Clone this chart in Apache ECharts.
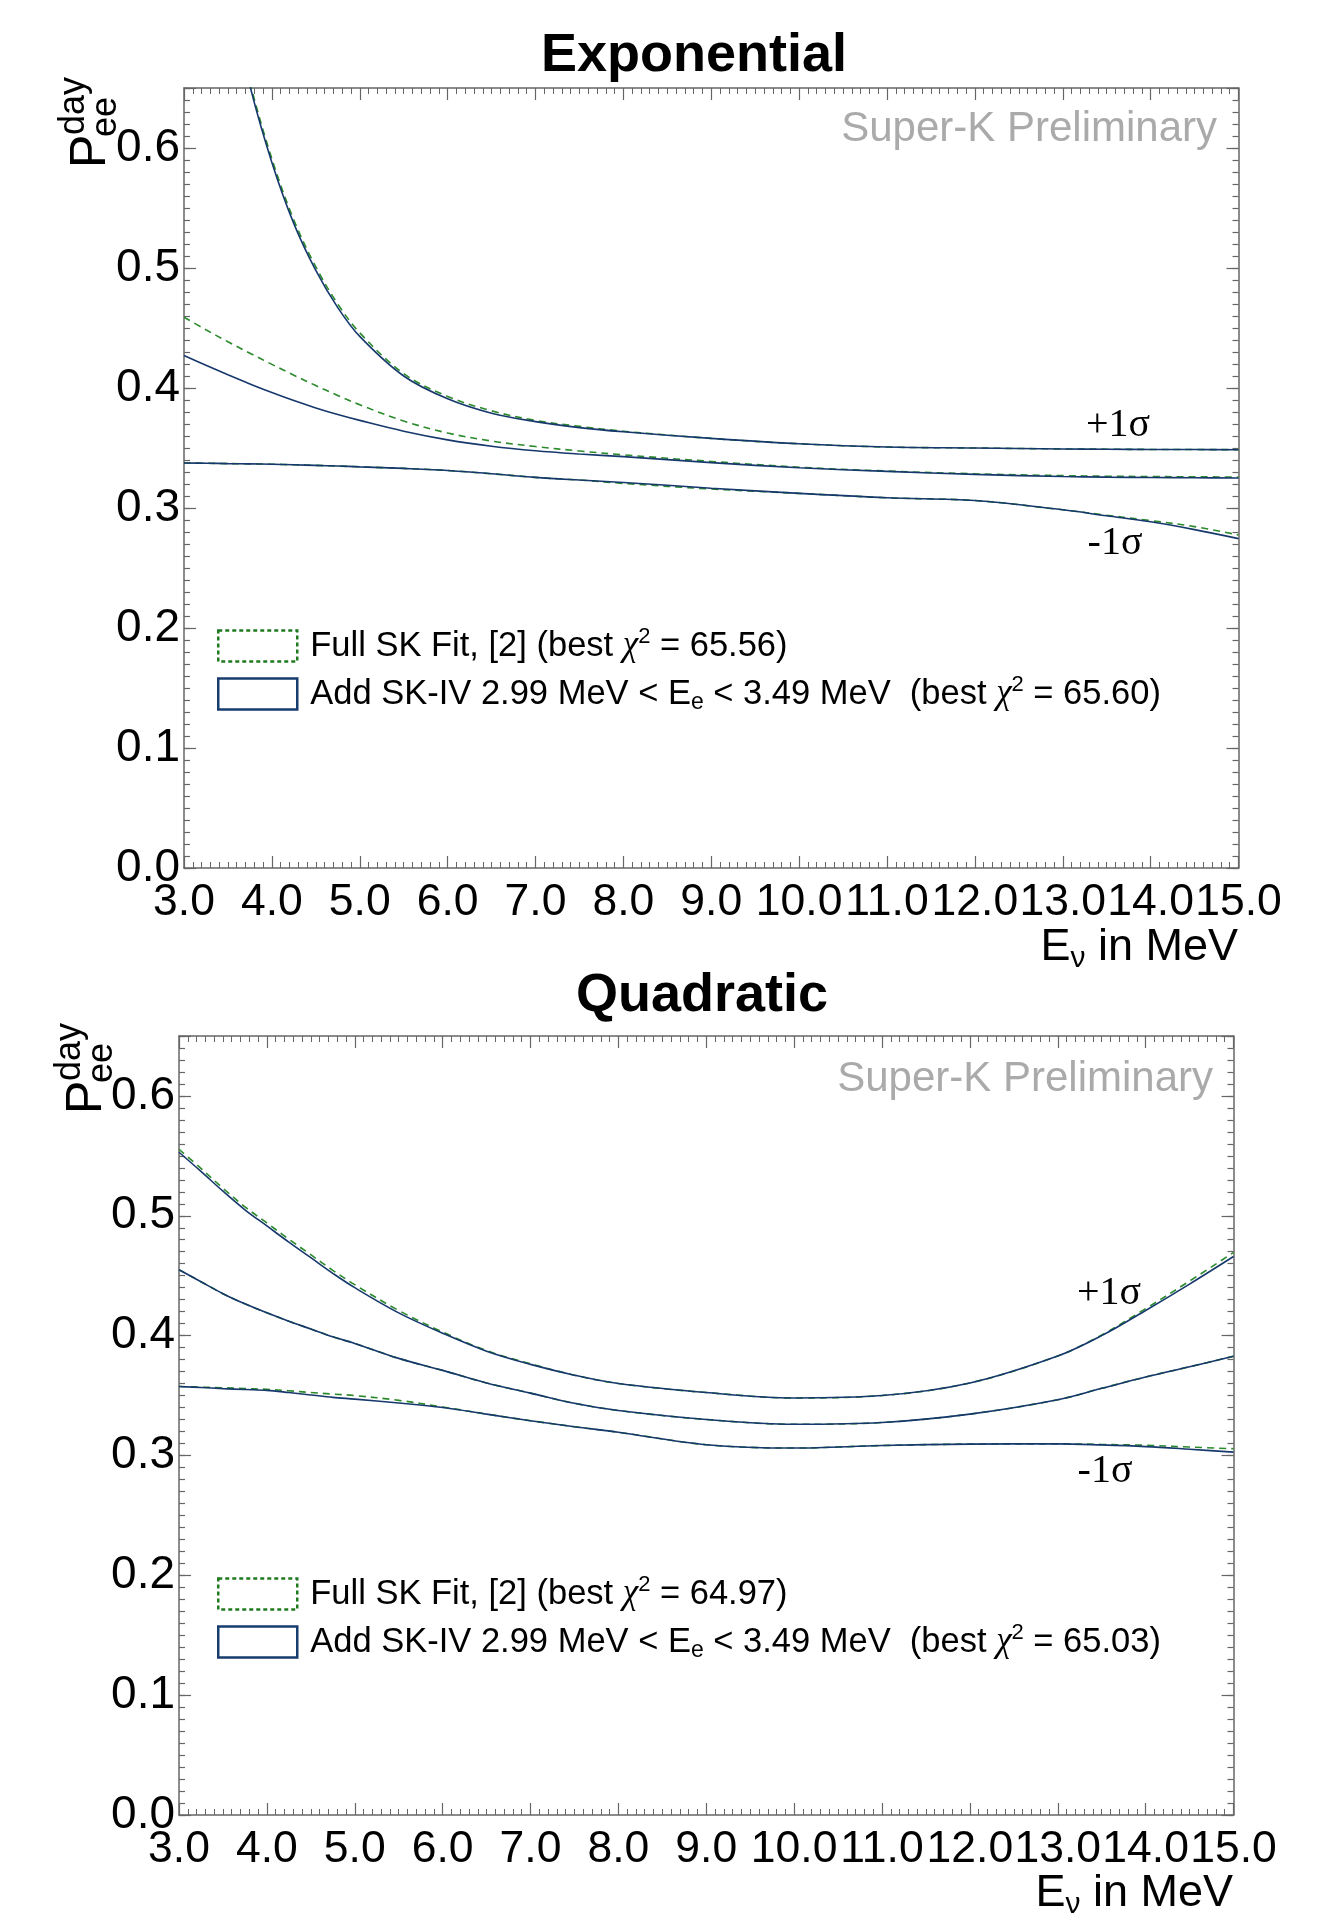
<!DOCTYPE html>
<html>
<head>
<meta charset="utf-8">
<title>Pee day - Exponential / Quadratic</title>
<script src="https://cdn.jsdelivr.net/npm/echarts@6/dist/echarts.min.js"></script>
<style>
  html, body { margin: 0; padding: 0; background: #fff; }
  #main { width: 1330px; height: 1918px; }
</style>
</head>
<body>
<div id="main"></div>
<script>
// neutrino energy grid (MeV), shared by every curve
var energies = [3.0, 3.25, 3.5, 3.75, 4.0, 4.25, 4.5, 4.75, 5.0, 5.5, 6.0, 6.5, 7.0, 7.5, 8.0, 9.0, 10.0, 11.0, 12.0, 13.0, 13.5, 14.0, 14.5, 15.0];

// Exponential fit : +1 sigma / best / -1 sigma
var expUpFull  = [0.98, 0.862, 0.738, 0.655, 0.591, 0.540, 0.501, 0.470, 0.446, 0.412, 0.393, 0.381, 0.373, 0.368, 0.364, 0.358, 0.3535, 0.3508, 0.3500, 0.3492, 0.349, 0.3488, 0.3487, 0.3486];
var expMidFull = [0.459, 0.4485, 0.4385, 0.429, 0.4197, 0.4107, 0.402, 0.3938, 0.386, 0.3725, 0.3625, 0.3558, 0.3512, 0.3475, 0.3443, 0.3388, 0.334, 0.3308, 0.3285, 0.327, 0.3265, 0.3262, 0.326, 0.3258];
var expLowFull = [0.3375, 0.3373, 0.337, 0.3368, 0.3365, 0.336, 0.3355, 0.335, 0.3343, 0.333, 0.3313, 0.3285, 0.3255, 0.3233, 0.3205, 0.3158, 0.3122, 0.3085, 0.3062, 0.2985, 0.294, 0.2895, 0.2845, 0.2775];
var expUpAdd   = [0.98, 0.86, 0.735, 0.652, 0.588, 0.537, 0.498, 0.467, 0.443, 0.410, 0.391, 0.379, 0.372, 0.367, 0.3635, 0.358, 0.3535, 0.3508, 0.3500, 0.3492, 0.349, 0.3488, 0.3487, 0.3486];
var expMidAdd  = [0.427, 0.4189, 0.411, 0.4034, 0.3962, 0.3895, 0.3834, 0.3779, 0.373, 0.364, 0.3568, 0.3515, 0.3477, 0.345, 0.3428, 0.3378, 0.3335, 0.3305, 0.328, 0.3262, 0.3257, 0.3254, 0.3252, 0.325];
var expLowAdd  = [0.3375, 0.3373, 0.337, 0.3368, 0.3365, 0.336, 0.3355, 0.335, 0.3343, 0.333, 0.3313, 0.3285, 0.3255, 0.3233, 0.3213, 0.3165, 0.3122, 0.3085, 0.3062, 0.2985, 0.2935, 0.2885, 0.282, 0.2745];

// Quadratic fit : +1 sigma / best / -1 sigma
var quadUpFull  = [0.5555, 0.5395, 0.523, 0.5075, 0.494, 0.4805, 0.4675, 0.4545, 0.4425, 0.421, 0.403, 0.3875, 0.3765, 0.367, 0.360, 0.3525, 0.348, 0.350, 0.3605, 0.383, 0.4005, 0.4225, 0.4455, 0.4694];
var quadMidFull = [0.455, 0.445, 0.435, 0.4265, 0.419, 0.412, 0.4055, 0.399, 0.3935, 0.381, 0.371, 0.3605, 0.352, 0.3435, 0.3375, 0.330, 0.326, 0.3275, 0.3345, 0.3465, 0.356, 0.3655, 0.374, 0.3828];
var quadLowFull = [0.3575, 0.357, 0.3565, 0.3558, 0.3552, 0.354, 0.3525, 0.3512, 0.350, 0.346, 0.3405, 0.3345, 0.329, 0.324, 0.3194, 0.309, 0.3062, 0.3083, 0.3095, 0.3097, 0.3092, 0.3085, 0.307, 0.3056];
var quadUpAdd   = [0.553, 0.537, 0.5205, 0.505, 0.4915, 0.478, 0.465, 0.452, 0.440, 0.419, 0.402, 0.387, 0.376, 0.367, 0.360, 0.3525, 0.348, 0.350, 0.3605, 0.383, 0.400, 0.421, 0.443, 0.466];
var quadMidAdd  = [0.455, 0.445, 0.435, 0.4265, 0.419, 0.412, 0.4055, 0.399, 0.3935, 0.381, 0.371, 0.3605, 0.352, 0.3435, 0.3375, 0.330, 0.326, 0.3275, 0.3345, 0.3465, 0.356, 0.3655, 0.374, 0.3828];
var quadLowAdd  = [0.3575, 0.3567, 0.3558, 0.355, 0.3543, 0.3525, 0.3505, 0.3485, 0.347, 0.3438, 0.340, 0.3345, 0.329, 0.324, 0.3194, 0.309, 0.3062, 0.3083, 0.3095, 0.3097, 0.3088, 0.3074, 0.3052, 0.3028];

var panelTitles = ['Exponential', 'Quadratic'];
var expNames  = ['Full SK Fit, [2] (best χ2 = 65.56)', 'Add SK-IV 2.99 MeV < Ee < 3.49 MeV  (best χ2 = 65.60)'];
var quadNames = ['Full SK Fit, [2] (best χ2 = 64.97)', 'Add SK-IV 2.99 MeV < Ee < 3.49 MeV  (best χ2 = 65.03)'];

var GREEN = '#2b8a2b';
var BLUE = '#16386c';
var FRAME = '#666';
var SANS = '"Liberation Sans", Arial, Helvetica, sans-serif';
var SERIF = '"Liberation Serif", "Times New Roman", serif';

var chart = echarts.init(document.getElementById('main'));

function pairs(vals) {
	return energies.map(function (e, i) { return [e, vals[i]]; });
}

// "χ2" -> chi with superscript, "Ee" -> E with subscript e
function richName(n) {
	return n.replace('χ2', '{chi|χ}{sup|2}').replace('Ee', 'E{sub|e}');
}

function yLabel(v) {
	return Math.abs(v * 10 - Math.round(v * 10)) < 1e-6 ? v.toFixed(1) : '';
}

/**
 * x axes for one grid: bottom with labels, top mirrored
 */
function makeXAxes(gi) {
	var base = {
		gridIndex: gi, type: 'value', min: 3, max: 15, interval: 1,
		axisLine: { show: true, onZero: false, lineStyle: { color: FRAME, width: 1.5 } },
		axisTick: { show: true, inside: true, length: 12, lineStyle: { color: FRAME, width: 1.2 } },
		minorTick: { show: true, splitNumber: 10, length: 6, lineStyle: { color: FRAME, width: 1 } },
		splitLine: { show: false },
		minorSplitLine: { show: false }
	};
	var bottom = echarts.util.merge({
		position: 'bottom',
		axisLabel: { show: true, fontSize: 44.5, fontFamily: SANS, color: '#000', margin: 12,
			showMinLabel: true, showMaxLabel: true, hideOverlap: false,
			formatter: function (v) { return v.toFixed(1); } }
	}, base, true);
	var top = echarts.util.merge({ position: 'top', axisLabel: { show: false } }, base, true);
	return [bottom, top];
}

/**
 * y axes for one grid: left major (labels), left minor, right major, right minor
 */
function makeYAxes(gi) {
	function ax(pos, interval, len, showLine, showLabel) {
		return {
			gridIndex: gi, type: 'value', position: pos, min: 0, max: 0.65, interval: interval,
			axisLine: { show: showLine, onZero: false, lineStyle: { color: FRAME, width: 1.5 } },
			axisTick: { show: true, inside: true, length: len, lineStyle: { color: FRAME, width: 1.2 } },
			axisLabel: showLabel
				? { show: true, fontSize: 46, fontFamily: SANS, color: '#000', margin: 4,
					showMinLabel: true, formatter: yLabel }
				: { show: false },
			splitLine: { show: false }
		};
	}
	return [
		ax('left', 0.1, 12, true, true),
		ax('left', 0.01, 6, false, false),
		ax('right', 0.1, 12, true, false),
		ax('right', 0.01, 6, false, false)
	];
}

function makeSeries(gi, names, full, add) {
	var out = [];
	full.forEach(function (vals) {
		out.push({
			name: names[0], type: 'line', xAxisIndex: gi * 2, yAxisIndex: gi * 4,
			data: pairs(vals), showSymbol: false, smooth: 0.35, clip: true, silent: true,
			lineStyle: { color: GREEN, width: 1.6, type: [7, 5] },
			itemStyle: { color: GREEN }
		});
	});
	add.forEach(function (vals) {
		out.push({
			name: names[1], type: 'line', xAxisIndex: gi * 2, yAxisIndex: gi * 4,
			data: pairs(vals), showSymbol: false, smooth: 0.35, clip: true, silent: true,
			lineStyle: { color: BLUE, width: 1.6 },
			itemStyle: { color: BLUE }
		});
	});
	return out;
}

function makeLegend(names, top) {
	return {
		orient: 'vertical', left: 217, top: top, padding: 0,
		itemWidth: 79, itemHeight: 31, itemGap: 8, selectedMode: false,
		data: [
			{ name: names[0], icon: 'rect',
			  itemStyle: { color: 'rgba(0,0,0,0)', borderColor: '#1f7a1f', borderWidth: 2.5, borderType: [4, 3] } },
			{ name: names[1], icon: 'rect',
			  itemStyle: { color: 'rgba(0,0,0,0)', borderColor: '#173c70', borderWidth: 2.5, borderType: 'solid' } }
		],
		formatter: richName,
		textStyle: {
			fontSize: 34.5, fontFamily: SANS, color: '#000', lineHeight: 40, padding: [0, 0, 0, 8],
			rich: {
				chi: { fontSize: 35, fontFamily: SERIF, fontStyle: 'italic', color: '#000', lineHeight: 40 },
				sup: { fontSize: 22, fontFamily: SANS, color: '#000', lineHeight: 20, verticalAlign: 'top' },
				sub: { fontSize: 23, fontFamily: SANS, color: '#000', lineHeight: 22, verticalAlign: 'bottom' }
			}
		}
	};
}

function txt(x, y, text, font, align, valign, fill, rot) {
	return {
		type: 'text', x: x, y: y, rotation: rot || 0, silent: true,
		style: { text: text, font: font, fill: fill || '#000',
			align: align, textAlign: align, verticalAlign: valign, textVerticalAlign: valign }
	};
}

function richText(x, y, text, rich, align, valign) {
	return {
		type: 'text', x: x, y: y, silent: true,
		style: { text: text, rich: rich, fill: '#000',
			align: align, textAlign: align, verticalAlign: valign, textVerticalAlign: valign }
	};
}

var nameRich = {
	a: { fontSize: 45, fontFamily: SANS, fill: '#000', color: '#000', lineHeight: 52 },
	s: { fontSize: 30, fontFamily: SANS, fill: '#000', color: '#000', lineHeight: 30, verticalAlign: 'bottom' }
};

var graphics = [];
// per panel decorations: [yOffset, xOffset, right edge of plot, sigma labels]
[[0, 0, 1238, [1118, 425, 1115, 543]], [946, -4, 1233, [1109, 1293, 1105, 1471]]].forEach(function (p) {
	var dy = p[0], dx = p[1];
	graphics.push(txt(1217 + dx, 129 + dy + (dy ? 4 : 0), 'Super-K Preliminary', '42px ' + SANS, 'right', 'middle', '#aaaaaa'));
	graphics.push(richText(p[2], 946 + dy + 2, '{a|E}{s|ν}{a| in MeV}', nameRich, 'right', 'middle'));
	// y axis name  P_ee^day, rotated
	graphics.push(txt(116 + dx, 168 + dy, 'P', '50px ' + SANS, 'left', 'bottom', '#000', Math.PI / 2));
	graphics.push(txt(124 + dx, 137 + dy, 'ee', '36px ' + SANS, 'left', 'bottom', '#000', Math.PI / 2));
	graphics.push(txt(56 + dx, 135 + dy, 'day', '36px ' + SANS, 'left', 'top', '#000', Math.PI / 2));
	graphics.push(txt(p[3][0], p[3][1], '+1σ', '40px ' + SERIF, 'center', 'middle'));
	graphics.push(txt(p[3][2], p[3][3], '-1σ', '40px ' + SERIF, 'center', 'middle'));
});

var option = {
	backgroundColor: '#fff',
	animation: false,
	title: [
		{ text: panelTitles[0], left: 694, top: 29, textAlign: 'center', padding: 0,
		  textStyle: { fontSize: 54, fontWeight: 'bold', fontFamily: SANS, color: '#000' } },
		{ text: panelTitles[1], left: 702, top: 969, textAlign: 'center', padding: 0,
		  textStyle: { fontSize: 54, fontWeight: 'bold', fontFamily: SANS, color: '#000' } }
	],
	grid: [
		{ left: 184, top: 88, width: 1054.5, height: 780, containLabel: false },
		{ left: 179, top: 1036, width: 1054.5, height: 779, containLabel: false }
	],
	xAxis: makeXAxes(0).concat(makeXAxes(1)),
	yAxis: makeYAxes(0).concat(makeYAxes(1)),
	legend: [makeLegend(expNames, 626), makeLegend(quadNames, 1574)],
	series: makeSeries(0, expNames, [expUpFull, expMidFull, expLowFull], [expUpAdd, expMidAdd, expLowAdd])
		.concat(makeSeries(1, quadNames, [quadUpFull, quadMidFull, quadLowFull], [quadUpAdd, quadMidAdd, quadLowAdd])),
	graphic: { elements: graphics }
};

chart.setOption(option);

window.addEventListener('resize', function () {
	chart.resize();
});
</script>
</body>
</html>
